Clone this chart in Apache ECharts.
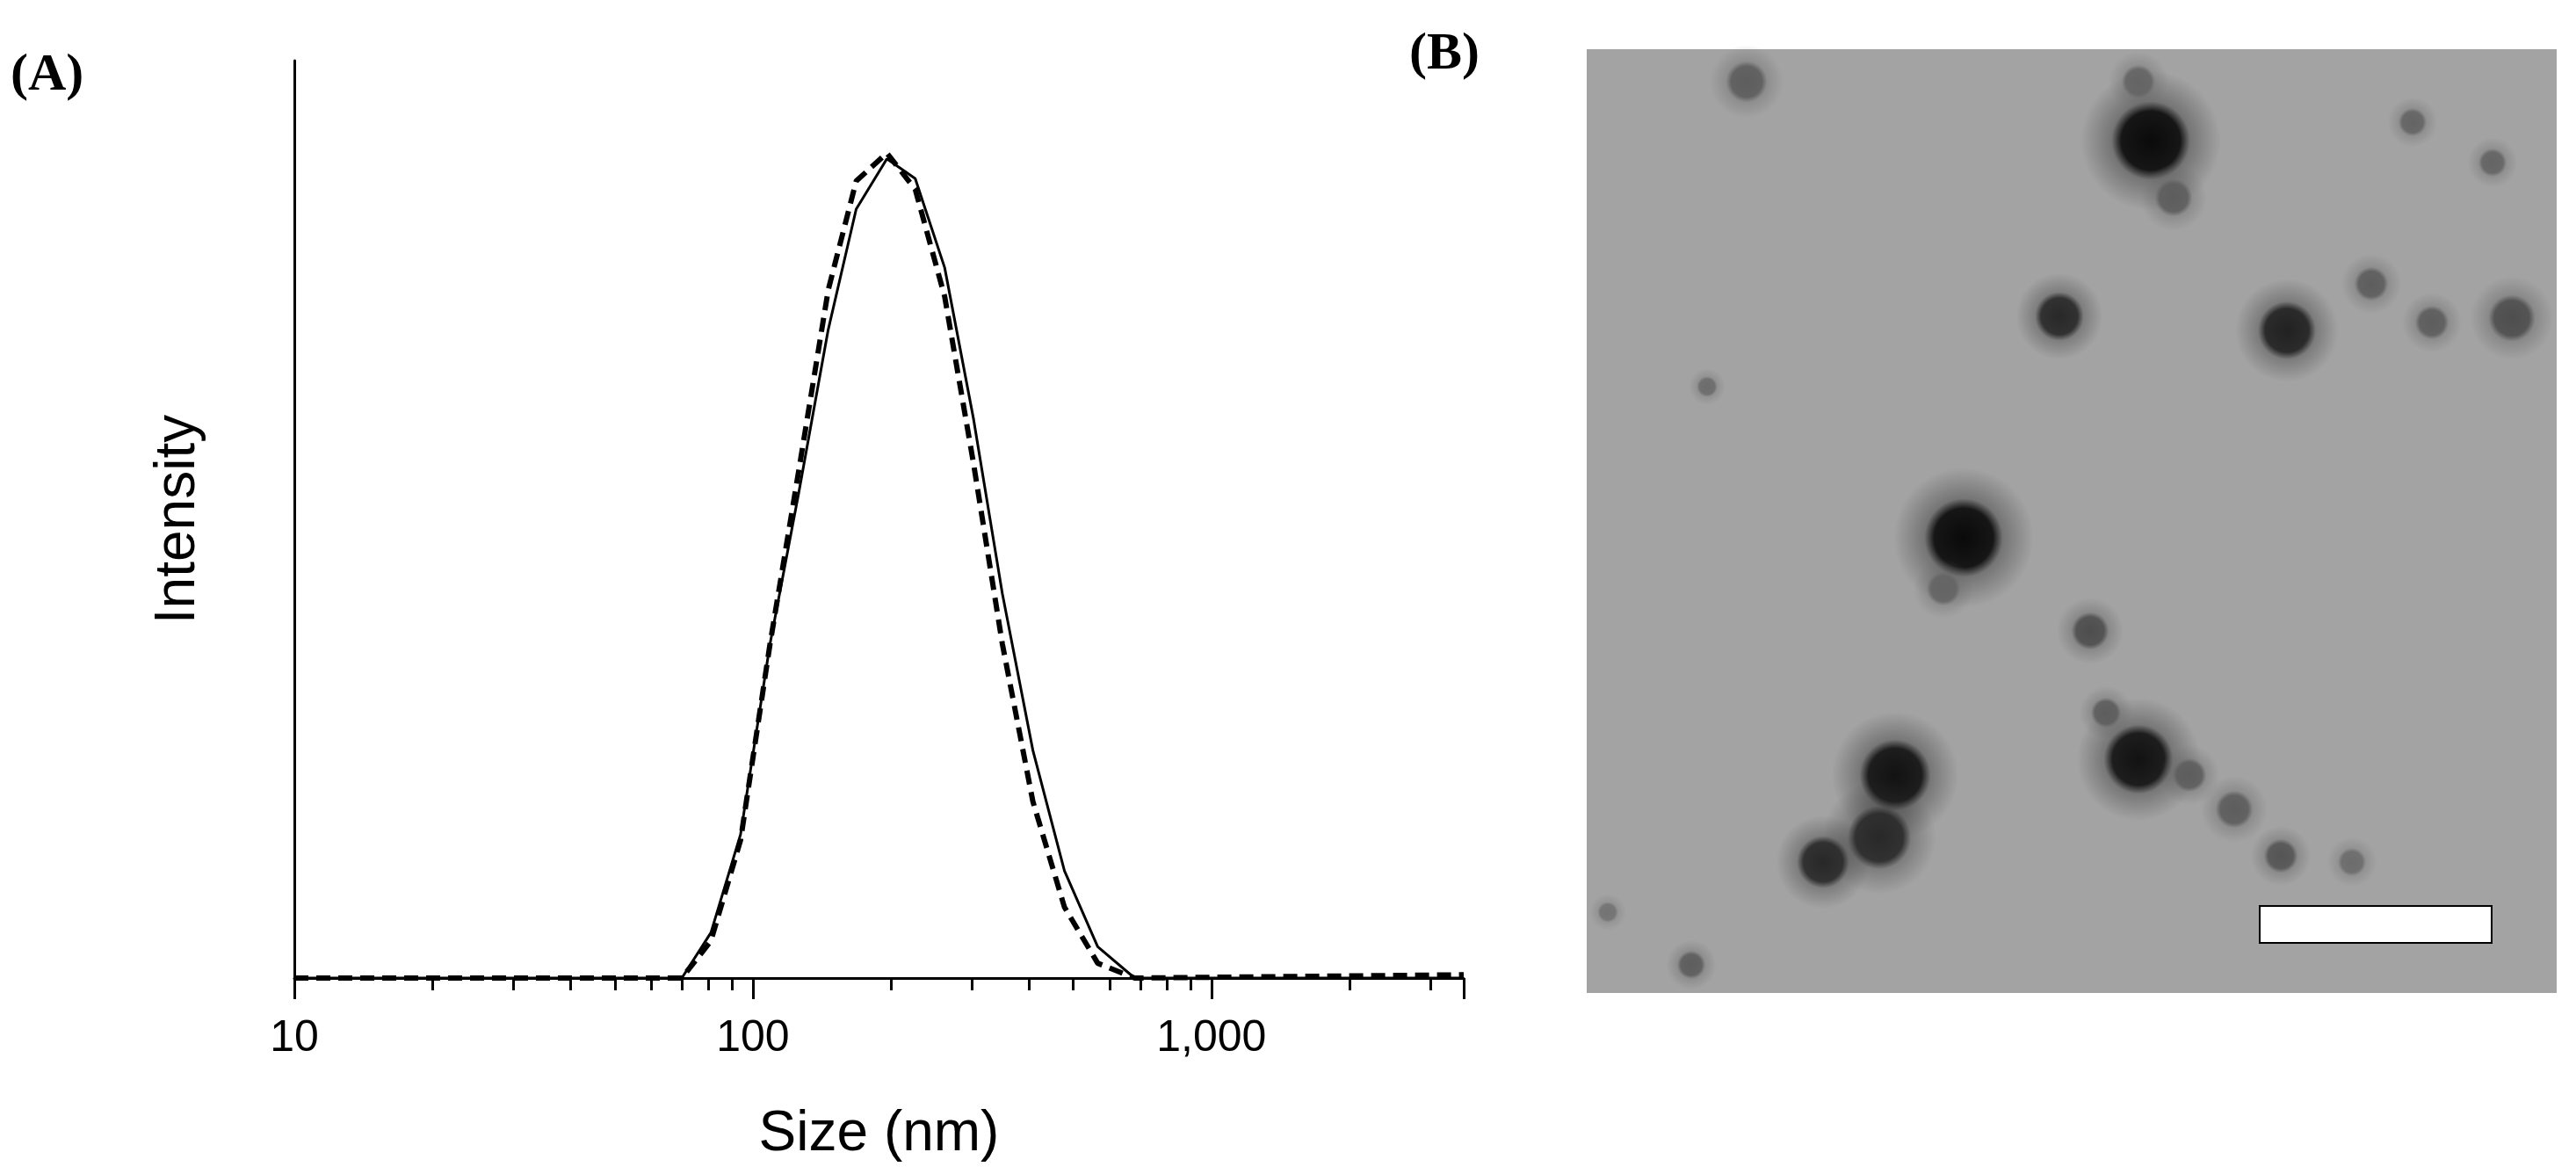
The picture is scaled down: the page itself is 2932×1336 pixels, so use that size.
<!DOCTYPE html>
<html>
<head>
<meta charset="utf-8">
<script src="https://cdn.jsdelivr.net/npm/echarts@6/dist/echarts.min.js"></script>
<style>html,body{margin:0;padding:0;background:#fff}#main{width:2932px;height:1336px}</style>
</head>
<body>
<div id="main"></div>
<script>
// particle size (nm), log-spaced bins
var sizes = [10, 70, 81, 94, 109, 126, 146, 168, 196, 226, 262, 303, 350, 408, 478, 565, 680, 3550];
var solid = [0, 0, 5.5, 17.4, 40.5, 58.9, 78.6, 93.2, 99.3, 96.9, 86.1, 67.7, 46.6, 27.6, 13.0, 3.8, 0, 0];
var dashed = [0, 0, 4.5, 16.7, 40.5, 61.6, 83.4, 96.6, 100, 95.6, 82.6, 62.3, 40.5, 21.4, 8.6, 1.8, 0, 0.4];
var xTicks = [10, 100, 1000];

// TEM panel blobs: [x, y, r, darkness]
var blobs = [
  [2448,160,42,1],[2235,612,42,1],[2157,882,38,0.95],[2434,864,37,0.95],[2603,376,31,0.85],
  [2344,360,26,0.8],[2139,953,34,0.8],[2075,981,28,0.8],[1988,93,22,0.45],[2379,718,20,0.55],
  [2859,362,25,0.55],[2768,367,18,0.45],[2699,323,18,0.45],[2543,921,20,0.45],[2596,974,18,0.5],
  [2492,882,18,0.45],[2397,811,16,0.45],[2474,225,20,0.45],[2746,139,15,0.4],[2837,185,15,0.4],
  [1943,440,11,0.35],[1925,1098,15,0.45],[1830,1038,11,0.3],[2677,981,15,0.35],[2212,670,18,0.4],[2434,93,18,0.4]
];

function pairs(ys) { return sizes.map(function (s, i) { return [s, ys[i]]; }); }

var chart = echarts.init(document.getElementById('main'));
var graphic = [
  {type:'text', left:12, top:56, style:{text:'(A)', font:'bold 60px "Liberation Serif"', fill:'#000'}},
  {type:'text', left:1604, top:32, style:{text:'(B)', font:'bold 60px "Liberation Serif"', fill:'#000'}},
  {type:'rect', shape:{x:1806, y:56, width:1104, height:1074}, style:{fill:'#a3a3a3'}}
];
blobs.forEach(function (b) {
  var a = b[3], c = Math.round(160 - 150 * a);
  graphic.push({type:'circle', shape:{cx:b[0], cy:b[1], r:b[2] * 1.9},
    style:{fill:new echarts.graphic.RadialGradient(0.5, 0.5, 0.5, [
      {offset:0, color:'rgba(' + c + ',' + c + ',' + c + ',1)'},
      {offset:0.42, color:'rgba(' + c + ',' + c + ',' + c + ',0.92)'},
      {offset:0.56, color:'rgba(' + c + ',' + c + ',' + c + ',0.3)'},
      {offset:1, color:'rgba(' + c + ',' + c + ',' + c + ',0)'}])}});
});
graphic.push({type:'rect', shape:{x:2572, y:1031, width:264, height:42}, style:{fill:'#fff', stroke:'#000', lineWidth:2}});

chart.setOption({
  animation: false,
  grid: {left: 335, right: 1266, top: 69, bottom: 223},
  xAxis: {
    type: 'log', logBase: 10, min: 10, max: 3550,
    name: 'Size (nm)', nameLocation: 'middle', nameGap: 146,
    nameTextStyle: {fontFamily: 'Liberation Sans', fontSize: 64, color: '#000'},
    axisLine: {lineStyle: {color: '#000', width: 3}},
    axisTick: {show: true, inside: false, length: 24, lineStyle: {color: '#000', width: 3}},
    minorTick: {show: true, splitNumber: 9, length: 14, lineStyle: {color: '#000', width: 3}},
    splitLine: {show: false},
    axisLabel: {margin: 44, fontFamily: 'Liberation Sans', fontSize: 50, color: '#000',
      formatter: function (v) { return xTicks.indexOf(v) >= 0 ? v.toLocaleString('en-US') : ''; }}
  },
  yAxis: {
    type: 'value', min: 0, max: 111.2,
    name: 'Intensity', nameLocation: 'middle', nameGap: 100,
    nameTextStyle: {fontFamily: 'Liberation Sans', fontSize: 64, color: '#000'},
    axisLine: {show: true, lineStyle: {color: '#000', width: 3}},
    axisTick: {show: false}, axisLabel: {show: false}, splitLine: {show: false}
  },
  series: [
    {type: 'line', data: pairs(solid), symbol: 'none', lineStyle: {color: '#000', width: 3}},
    {type: 'line', data: pairs(dashed), symbol: 'none', lineStyle: {color: '#000', width: 6, type: [16, 9]}}
  ],
  graphic: graphic
});
</script>
</body>
</html>
